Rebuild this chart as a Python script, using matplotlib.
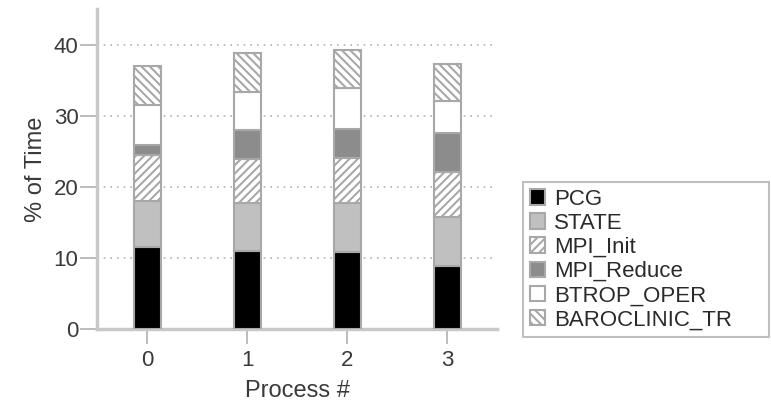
import numpy as np
import matplotlib.pyplot as plt

plt.rcParams['font.family'] = ['Liberation Sans', 'DejaVu Sans']
plt.rcParams['hatch.color'] = '#a0a0a0'
plt.rcParams['hatch.linewidth'] = 1.5

processes = ["0", "1", "2", "3"]
labels = ["PCG", "STATE", "MPI_Init", "MPI_Reduce", "BTROP_OPER", "BAROCLINIC_TR"]

# segment sizes per process (% of time)
pcg = [11.45, 11.0, 10.75, 8.9]
state = [6.55, 6.7, 6.95, 6.9]
mpi_init = [6.4, 6.2, 6.3, 6.3]
mpi_reduce = [1.4, 4.1, 4.1, 5.5]
btrop_oper = [5.7, 5.3, 5.8, 4.5]
baroclinic = [5.5, 5.5, 5.3, 5.2]

series = [pcg, state, mpi_init, mpi_reduce, btrop_oper, baroclinic]
facecolors = ["black", "#c0c0c0", "white", "#8c8c8c", "white", "white"]
hatches = [None, None, "////", None, None, "\\\\\\\\"]

fig = plt.figure(figsize=(7.71, 4.11), dpi=100)
ax = fig.add_axes([0.126, 0.200, 0.519, 0.778])

x = np.arange(len(processes))
bottom = np.zeros(len(processes))
for vals, lab, fc, h in zip(series, labels, facecolors, hatches):
    ax.bar(x, vals, width=0.27, bottom=bottom, color=fc, edgecolor="#a8a8a8",
           linewidth=1.5, hatch=h, label=lab, zorder=3)
    bottom += np.array(vals)

ax.set_xlim(-0.5, 3.5)
ax.set_ylim(0, 45)
ax.set_xticks(x)
ax.set_xticklabels(processes)
ax.set_yticks([0, 10, 20, 30, 40])

ax.yaxis.grid(True, linestyle=(0, (1, 3)), color="#b0b0b0", linewidth=1.2, zorder=0)
ax.set_axisbelow(True)

for s in ["top", "right"]:
    ax.spines[s].set_visible(False)
for s in ["left", "bottom"]:
    ax.spines[s].set_color("#c8c8c8")
    ax.spines[s].set_linewidth(2.5)

ax.tick_params(axis="y", length=12, width=1.2, color="#b0b0b0", labelsize=16, labelcolor="#3a3a3a", pad=1.5)
ax.tick_params(axis="x", length=11, width=1.2, color="#b0b0b0", labelsize=16, labelcolor="#3a3a3a", pad=4)

ax.set_xlabel("Process #", fontsize=17, color="#3a3a3a", labelpad=7)
ax.set_ylabel("% of Time", fontsize=17, color="#3a3a3a", labelpad=5)

leg = ax.legend(loc="lower left", bbox_to_anchor=(523 / 771, 74 / 411, 246 / 771, 152 / 411),
                bbox_transform=fig.transFigure, mode="expand",
                fontsize=16, frameon=True, fancybox=False, handlelength=0.7, handleheight=0.7,
                handletextpad=0.4, labelspacing=0.14, borderpad=0.3, borderaxespad=0)
leg.get_frame().set_edgecolor("#b0b0b0")
leg.get_frame().set_linewidth(1.5)
for t in leg.get_texts():
    t.set_color("#2a2a2a")

fig.savefig("out.png", dpi=100)
